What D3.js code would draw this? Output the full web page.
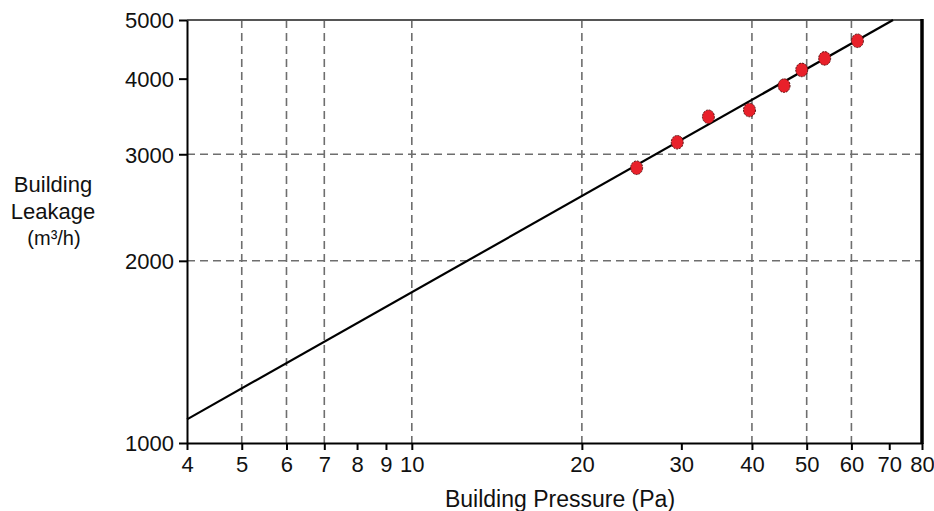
<!DOCTYPE html>
<html>
<head>
<meta charset="utf-8">
<script src="https://cdn.jsdelivr.net/npm/d3@7"></script>
<style>
  body { margin: 0; background: #fff; }
  svg text { font-family: "Liberation Sans", Arial, sans-serif; fill: #111; }
</style>
</head>
<body>
<div id="chart"></div>
<script>
// measured points (pressure Pa, leakage m3/h)
var pressure = [25, 29.5, 33.5, 39.6, 45.6, 49, 53.8, 61.5];
var leakage = [2850, 3140, 3460, 3550, 3895, 4135, 4320, 4620];

// fitted power-law line end points
var fitX = [4, 71.1];
var fitY = [1094, 5000];

var xTicks = [4, 5, 6, 7, 8, 9, 10, 20, 30, 40, 50, 60, 70, 80];
var yTicks = [1000, 2000, 3000, 4000, 5000];
var xGrid = [5, 6, 7, 10, 20, 40, 50, 60];
var yGrid = [2000, 3000];

var width = 934, height = 511;
var margin = {top: 20, right: 12, bottom: 68, left: 187};

var svg = d3.select("#chart").append("svg")
    .attr("width", width)
    .attr("height", height);

var x = d3.scaleLog().domain([4, 80]).range([margin.left, width - margin.right]);
var y = d3.scaleLog().domain([1000, 5000]).range([height - margin.bottom, margin.top]);

var x0 = x.range()[0], x1 = x.range()[1];
var y0 = y.range()[0], y1 = y.range()[1];

/* dashed grid */
var grid = svg.append("g")
    .attr("stroke", "#6e6e6e")
    .attr("stroke-width", 1.6)
    .attr("stroke-dasharray", "8,5");

grid.selectAll("line.vx")
    .data(xGrid)
    .enter().append("line")
    .attr("x1", function (d) { return x(d); })
    .attr("x2", function (d) { return x(d); })
    .attr("y1", y1)
    .attr("y2", y0);

grid.selectAll("line.hy")
    .data(yGrid)
    .enter().append("line")
    .attr("x1", x0)
    .attr("x2", x1)
    .attr("y1", function (d) { return y(d); })
    .attr("y2", function (d) { return y(d); });

/* frame: top grey, right thick black */
svg.append("line")
    .attr("x1", x0).attr("x2", x1)
    .attr("y1", y1).attr("y2", y1)
    .attr("stroke", "#555").attr("stroke-width", 2);
svg.append("line")
    .attr("x1", x1).attr("x2", x1)
    .attr("y1", y1 - 1).attr("y2", y0 + 1)
    .attr("stroke", "#000").attr("stroke-width", 3.5);

/* axes */
var xAxis = d3.axisBottom(x)
    .tickValues(xTicks)
    .tickFormat(d3.format("d"))
    .tickSizeInner(7)
    .tickSizeOuter(0)
    .tickPadding(6);

var yAxis = d3.axisLeft(y)
    .tickValues(yTicks)
    .tickFormat(d3.format("d"))
    .tickSizeInner(8)
    .tickSizeOuter(0)
    .tickPadding(5);

var gx = svg.append("g")
    .attr("transform", "translate(0," + y0 + ")")
    .call(xAxis);
var gy = svg.append("g")
    .attr("transform", "translate(" + x0 + ",0)")
    .call(yAxis);

[gx, gy].forEach(function (g) {
    g.select(".domain").attr("stroke", "#000").attr("stroke-width", 2);
    g.selectAll(".tick line").attr("stroke", "#000").attr("stroke-width", 2);
    g.selectAll(".tick text")
        .attr("fill", "#111")
        .style("font-family", "'Liberation Sans', Arial, sans-serif")
        .style("font-size", "22px");
});
gy.selectAll(".tick text").attr("dy", "0.36em");

/* fitted line */
var line = d3.line()
    .x(function (d) { return x(d[0]); })
    .y(function (d) { return y(d[1]); });

svg.append("path")
    .datum(d3.zip(fitX, fitY))
    .attr("d", line)
    .attr("fill", "none")
    .attr("stroke", "#000")
    .attr("stroke-width", 2.2);

/* data points */
svg.selectAll("ellipse.pt")
    .data(d3.zip(pressure, leakage))
    .enter().append("ellipse")
    .attr("class", "pt")
    .attr("cx", function (d) { return x(d[0]); })
    .attr("cy", function (d) { return y(d[1]); })
    .attr("rx", 6)
    .attr("ry", 6.8)
    .attr("fill", "#e8202a")
    .attr("stroke", "#5a1010")
    .attr("stroke-width", 1)
    .attr("stroke-dasharray", "2,1");

/* titles */
svg.append("text")
    .attr("x", 560)
    .attr("y", 507)
    .attr("text-anchor", "middle")
    .style("font-size", "23px")
    .text("Building Pressure (Pa)");

var yt = svg.append("text")
    .attr("text-anchor", "middle")
    .style("font-size", "22px");
yt.append("tspan").attr("x", 53).attr("y", 192).text("Building");
yt.append("tspan").attr("x", 53).attr("y", 219).text("Leakage");
yt.append("tspan").attr("x", 54).attr("y", 245).style("font-size", "20px").text("(m³/h)");
</script>
</body>
</html>
